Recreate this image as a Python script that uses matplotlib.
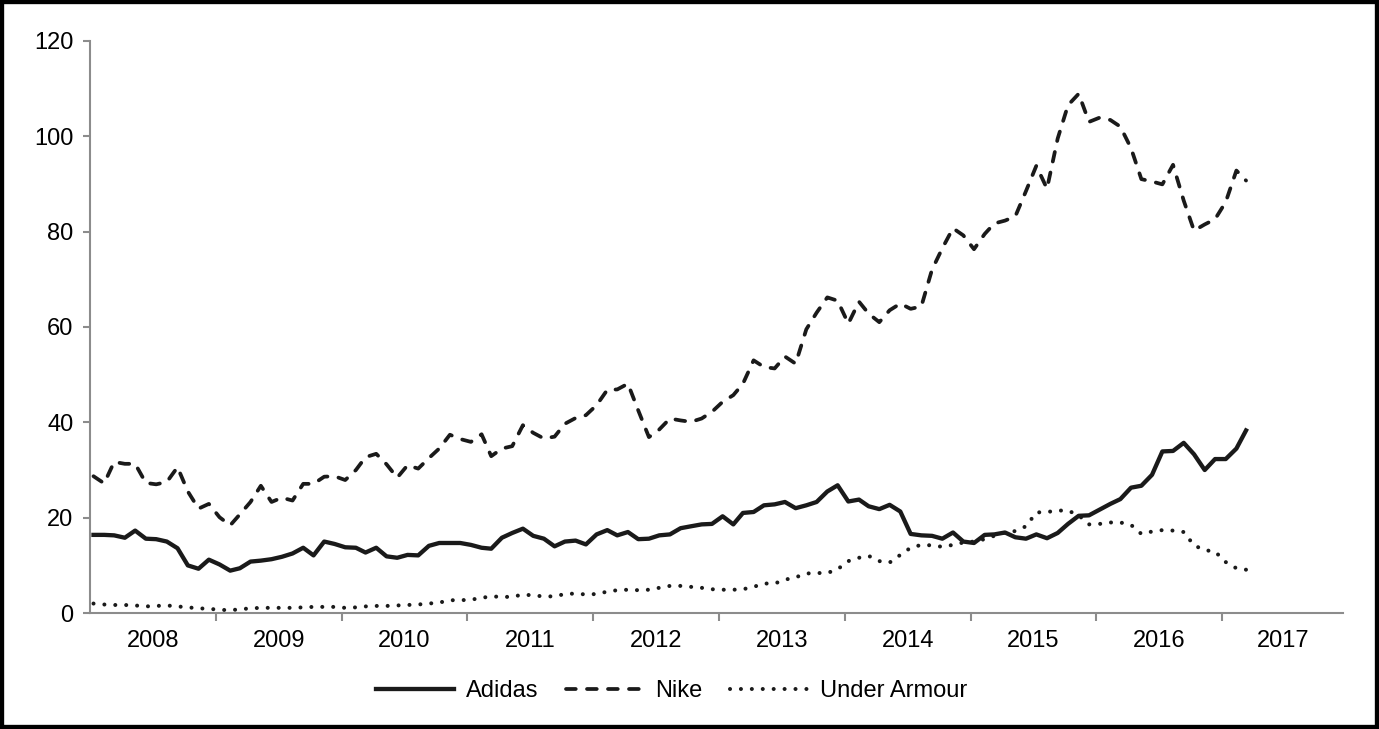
import numpy as np
import pandas as pd
import matplotlib
matplotlib.use("Agg")
import matplotlib.pyplot as plt
from matplotlib.patches import Rectangle

# monthly values, Jan 2008 .. Mar 2017
adidas = [16.4, 16.4, 16.3, 15.8, 17.3, 15.6, 15.5, 15.0, 13.6, 10.0, 9.3, 11.2,
          10.2, 8.9, 9.4, 10.8, 11.0, 11.3, 11.8, 12.5, 13.7, 12.1, 15.0, 14.5,
          13.8, 13.7, 12.7, 13.7, 11.9, 11.6, 12.2, 12.1, 14.1, 14.7, 14.7, 14.7,
          14.3, 13.7, 13.5, 15.8, 16.8, 17.7, 16.2, 15.6, 14.0, 15.0, 15.2, 14.4,
          16.5, 17.4, 16.3, 17.0, 15.5, 15.6, 16.3, 16.5, 17.8, 18.2, 18.6, 18.7,
          20.3, 18.6, 21.0, 21.2, 22.6, 22.8, 23.3, 22.0, 22.6, 23.3, 25.5, 26.8,
          23.4, 23.8, 22.4, 21.8, 22.7, 21.3, 16.6, 16.3, 16.2, 15.6, 16.9, 15.0,
          14.7, 16.4, 16.5, 16.9, 15.9, 15.6, 16.5, 15.7, 16.8, 18.7, 20.4, 20.5,
          21.7, 22.9, 23.9, 26.3, 26.7, 29.0, 33.9, 34.0, 35.7, 33.3, 30.0, 32.3,
          32.3, 34.5, 38.3]
nike = [28.7, 27.2, 31.7, 31.3, 31.3, 27.3, 27.0, 27.5, 30.6, 25.5, 21.9, 22.9,
        20.1, 18.4, 20.7, 23.3, 26.7, 23.3, 24.2, 23.6, 27.1, 27.1, 28.6, 28.7,
        27.9, 30.0, 32.7, 33.4, 31.2, 28.4, 31.0, 30.3, 32.5, 34.5, 37.4, 36.5,
        35.9, 37.5, 32.9, 34.5, 35.0, 39.4, 37.8, 36.6, 37.0, 39.7, 40.9, 41.5,
        43.6, 46.8, 46.9, 48.1, 42.5, 36.9, 38.5, 40.8, 40.4, 40.1, 40.8, 42.2,
        44.3, 45.7, 48.1, 53.0, 51.6, 51.3, 53.8, 52.3, 59.5, 63.0, 66.2, 65.5,
        60.7, 65.3, 62.8, 61.0, 63.5, 64.9, 63.8, 64.3, 72.0, 76.5, 80.7, 79.2,
        76.3, 79.5, 81.7, 82.3, 83.2, 88.5, 93.8, 89.0, 99.5, 106.5, 108.9, 103.0,
        103.9, 103.4, 102.0, 97.5, 91.0, 90.5, 89.9, 94.0, 86.5, 80.2, 81.5, 82.6,
        86.2, 92.8, 90.7]
under_armour = [2.0, 1.8, 1.7, 1.7, 1.6, 1.4, 1.5, 1.6, 1.4, 1.2, 1.0, 0.9,
                0.7, 0.6, 0.8, 1.0, 1.1, 1.1, 1.1, 1.1, 1.2, 1.3, 1.3, 1.3,
                1.1, 1.2, 1.4, 1.5, 1.5, 1.6, 1.7, 1.8, 2.0, 2.2, 2.7, 2.7,
                2.8, 3.2, 3.5, 3.4, 3.4, 3.9, 3.7, 3.5, 3.5, 4.0, 4.1, 3.9,
                4.0, 4.5, 4.8, 4.9, 4.8, 4.9, 5.3, 5.7, 5.7, 5.5, 5.3, 5.0,
                4.9, 4.9, 5.0, 5.5, 6.2, 6.2, 7.0, 7.5, 8.3, 8.4, 8.4, 9.2,
                10.9, 11.6, 12.0, 10.9, 10.6, 12.2, 13.7, 14.3, 14.2, 13.9, 14.3, 14.8,
                15.0, 15.5, 16.2, 16.9, 17.2, 18.2, 21.1, 21.2, 21.5, 21.5, 20.5, 18.6,
                18.7, 19.0, 19.0, 18.5, 16.6, 17.1, 17.4, 17.3, 17.0, 14.2, 13.2, 12.9,
                10.7, 9.4, 9.1]
years = list(range(2008, 2018))

dates = pd.date_range("2008-01-01", periods=len(adidas), freq="MS") + pd.Timedelta(days=10)

plt.rcParams['font.family'] = ['Liberation Sans', 'DejaVu Sans']
ink = '#1a1a1a'
grey = '#8c8c8c'

fig = plt.figure(figsize=(13.79, 7.29), dpi=100)
ax = fig.add_axes([0.0653, 0.159, 0.9087, 0.785])

ax.plot(dates, adidas, color=ink, lw=3.1, solid_joinstyle='round', label='Adidas')
ax.plot(dates, nike, color=ink, lw=2.7, linestyle=(0, (2.6, 3.0)),
        dash_capstyle='round', label='Nike')
ax.plot(dates, under_armour, color=ink, lw=2.9, linestyle=(0, (0.01, 2.7)),
        dash_capstyle='round', label='Under Armour')

x0 = pd.Timestamp('2008-01-01')
x1 = pd.Timestamp('2017-12-18')
ax.set_xlim(x0, x1)
ax.set_ylim(0, 120)
ax.set_yticks(range(0, 121, 20))

# year boundaries as ticks, year names centred between them
bounds = [pd.Timestamp(f'{y}-01-01') for y in years[1:]]
ax.set_xticks(bounds)
ax.set_xticklabels([])
mids = []
for y in years:
    a = pd.Timestamp(f'{y}-01-01')
    b = min(pd.Timestamp(f'{y + 1}-01-01'), x1)
    mids.append(a + (b - a) / 2)
ax.set_xticks(mids, minor=True)
ax.set_xticklabels([str(y) for y in years], minor=True)

for s in ['top', 'right']:
    ax.spines[s].set_visible(False)
for s in ['left', 'bottom']:
    ax.spines[s].set_color(grey)
    ax.spines[s].set_linewidth(1.5)

ax.tick_params(axis='y', colors=grey, labelcolor='black', labelsize=17,
               length=5, width=1.5, pad=7)
ax.tick_params(axis='x', which='major', colors=grey, length=6, width=1.5)
ax.tick_params(axis='x', which='minor', length=0, labelsize=17,
               labelcolor='black', pad=12)

fig.legend(loc='center', bbox_to_anchor=(0.487, 0.052), ncol=3, frameon=False,
           fontsize=17, handlelength=3.3, handletextpad=0.5, columnspacing=1.15)

fig.patches.append(Rectangle((0, 0), 1, 1, transform=fig.transFigure,
                             fill=False, edgecolor='black', linewidth=6))

fig.savefig('out.png', dpi=100, facecolor='white')
